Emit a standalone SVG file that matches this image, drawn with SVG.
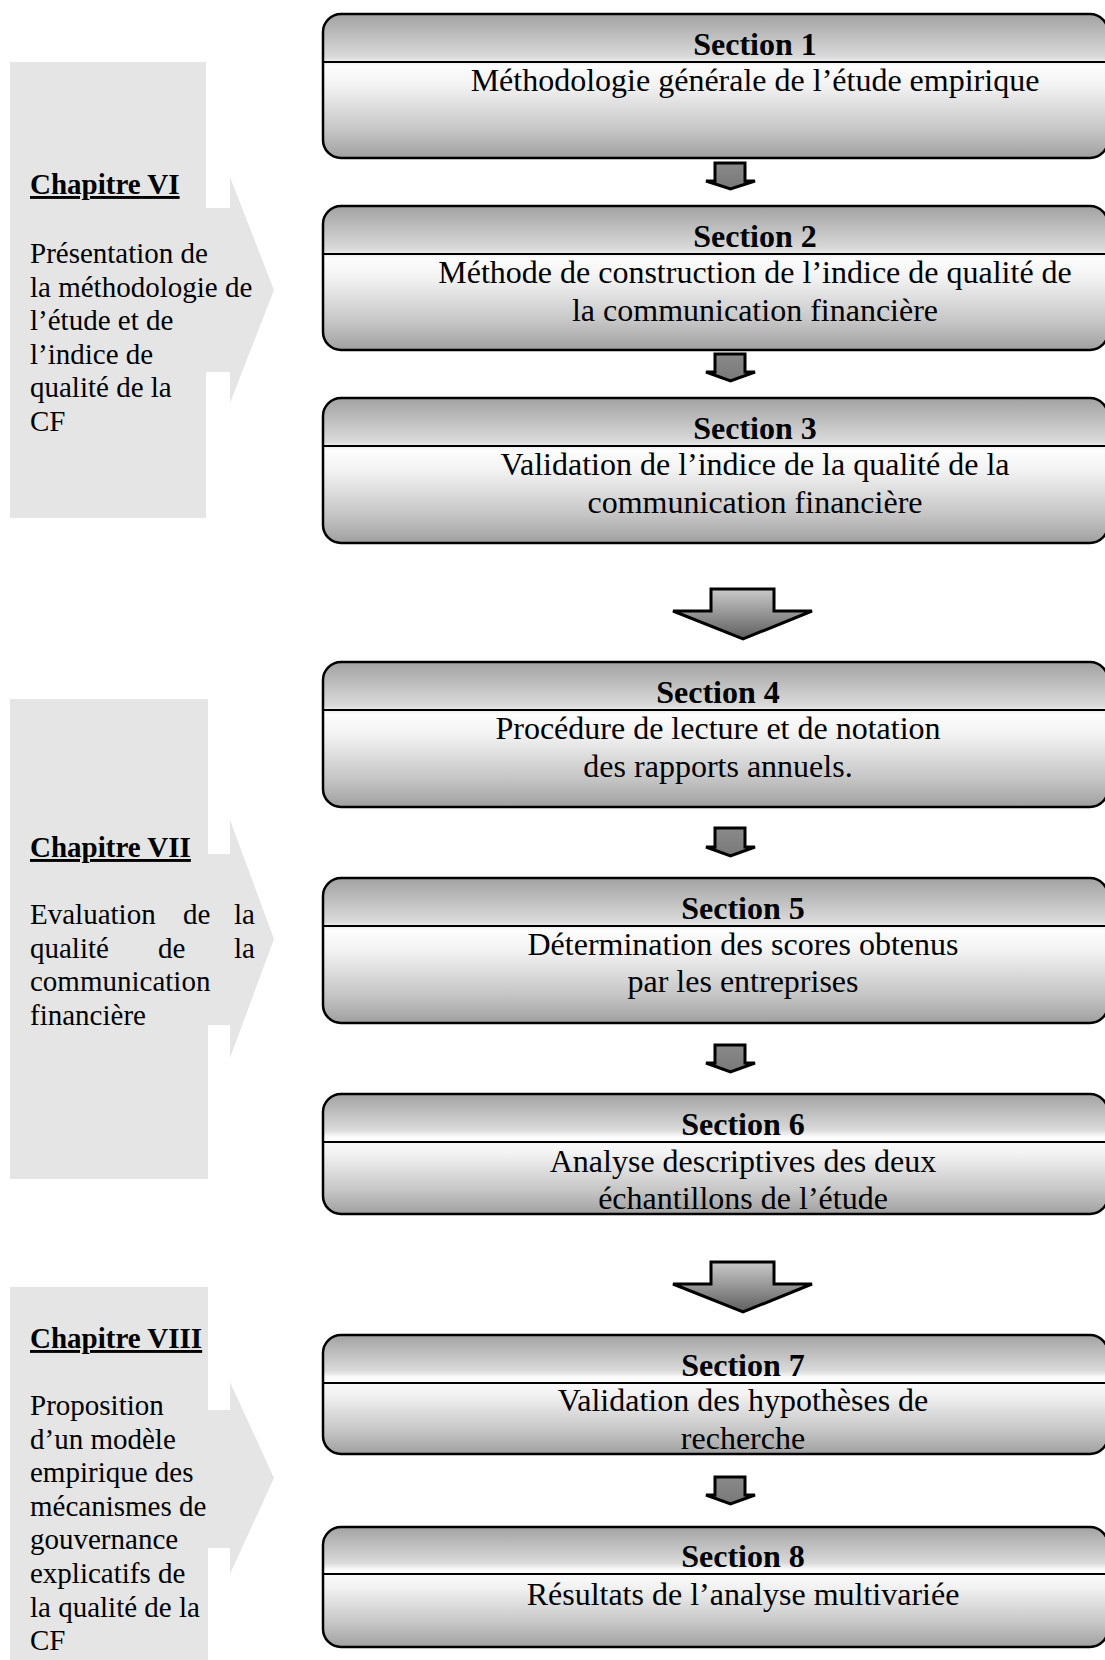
<svg xmlns="http://www.w3.org/2000/svg" width="1105" height="1660" viewBox="0 0 1105 1660">
<defs>
<linearGradient id="boxGrad" x1="0" y1="0" x2="0" y2="1">
<stop offset="0" stop-color="#a2a2a2"/>
<stop offset="0.30" stop-color="#dadada"/>
<stop offset="0.36" stop-color="#fdfdfd"/>
<stop offset="0.50" stop-color="#f2f2f2"/>
<stop offset="0.80" stop-color="#c6c6c6"/>
<stop offset="1" stop-color="#a0a0a0"/>
</linearGradient>
<linearGradient id="bigGrad" x1="0" y1="0" x2="0" y2="1">
<stop offset="0" stop-color="#cacaca"/>
<stop offset="1" stop-color="#5e5e5e"/>
</linearGradient>
<linearGradient id="smallGrad" x1="0" y1="0" x2="0" y2="1">
<stop offset="0" stop-color="#8a8a8a"/>
<stop offset="1" stop-color="#787878"/>
</linearGradient>
</defs>
<style>
.panel{fill:#e5e5e5;stroke:none}
.box{fill:url(#boxGrad);stroke:#000;stroke-width:2.5}
.hline{stroke:#000;stroke-width:2.2}
.big{fill:url(#bigGrad);stroke:#000;stroke-width:3;stroke-linejoin:miter}
.small{fill:url(#smallGrad);stroke:#000;stroke-width:3;stroke-linejoin:miter}
.ct{font-family:"Liberation Serif","Times New Roman",serif;font-size:29px;fill:#000}
.ch{font-family:"Liberation Serif","Times New Roman",serif;font-size:29px;font-weight:bold;text-decoration:underline;fill:#000}
.sh{font-family:"Liberation Serif","Times New Roman",serif;font-size:32px;font-weight:bold;fill:#000;text-anchor:middle}
.st{font-family:"Liberation Serif","Times New Roman",serif;font-size:32px;fill:#000;text-anchor:middle}
</style>

<g id="chapitre6">
<polygon class="panel" points="10,62 206,62 206,208 230,208 230,177 274,290 230,403 230,372 206,372 206,518 10,518"/>
<text class="ch" x="30" y="194">Chapitre VI</text>
<text class="ct" x="30" y="263">Présentation de</text>
<text class="ct" x="30" y="296.5">la méthodologie de</text>
<text class="ct" x="30" y="330">l’étude et de</text>
<text class="ct" x="30" y="363.5">l’indice de</text>
<text class="ct" x="30" y="397">qualité de la</text>
<text class="ct" x="30" y="430.5">CF</text>
</g>

<g id="chapitre7">
<polygon class="panel" points="10,699 208,699 208,854 230,854 230,820 274,939 230,1058 230,1025 208,1025 208,1179 10,1179"/>
<text class="ch" x="30" y="857">Chapitre VII</text>
<text class="ct" x="30" y="924">Evaluation</text>
<text class="ct" x="183" y="924">de</text>
<text class="ct" x="255" y="924" text-anchor="end">la</text>
<text class="ct" x="30" y="957.5">qualité</text>
<text class="ct" x="158" y="957.5">de</text>
<text class="ct" x="255" y="957.5" text-anchor="end">la</text>
<text class="ct" x="30" y="991">communication</text>
<text class="ct" x="30" y="1024.5">financière</text>
</g>

<g id="chapitre8">
<polygon class="panel" points="10,1287 208,1287 208,1410 230,1410 230,1382 274,1478 230,1574 230,1548 208,1548 208,1665 10,1665"/>
<text class="ch" x="30" y="1348">Chapitre VIII</text>
<text class="ct" x="30" y="1415">Proposition</text>
<text class="ct" x="30" y="1448.6">d’un modèle</text>
<text class="ct" x="30" y="1482.2">empirique des</text>
<text class="ct" x="30" y="1515.8">mécanismes de</text>
<text class="ct" x="30" y="1549.4">gouvernance</text>
<text class="ct" x="30" y="1583">explicatifs de</text>
<text class="ct" x="30" y="1616.6">la qualité de la</text>
<text class="ct" x="30" y="1650.2">CF</text>
</g>

<g id="section1">
<rect class="box" x="323" y="14" width="785" height="144" rx="18"/>
<line class="hline" x1="323" y1="62" x2="1108" y2="62"/>
<text class="sh" x="755" y="55">Section 1</text>
<text class="st" x="755" y="91">Méthodologie générale de l’étude empirique</text>
</g>

<g id="section2">
<rect class="box" x="323" y="206" width="785" height="144" rx="18"/>
<line class="hline" x1="323" y1="254" x2="1108" y2="254"/>
<text class="sh" x="755" y="247">Section 2</text>
<text class="st" x="755" y="283">Méthode de construction de l’indice de qualité de</text>
<text class="st" x="755" y="320.5">la communication financière</text>
</g>

<g id="section3">
<rect class="box" x="323" y="398" width="785" height="145" rx="18"/>
<line class="hline" x1="323" y1="446" x2="1108" y2="446"/>
<text class="sh" x="755" y="439">Section 3</text>
<text class="st" x="755" y="475">Validation de l’indice de la qualité de la</text>
<text class="st" x="755" y="512.5">communication financière</text>
</g>

<g id="section4">
<rect class="box" x="323" y="662" width="785" height="145" rx="18"/>
<line class="hline" x1="323" y1="710" x2="1108" y2="710"/>
<text class="sh" x="718" y="702.5">Section 4</text>
<text class="st" x="718" y="739">Procédure de lecture et de notation</text>
<text class="st" x="718" y="776.5">des rapports annuels.</text>
</g>

<g id="section5">
<rect class="box" x="323" y="878" width="785" height="145" rx="18"/>
<line class="hline" x1="323" y1="926" x2="1108" y2="926"/>
<text class="sh" x="743" y="918.5">Section 5</text>
<text class="st" x="743" y="955">Détermination des scores obtenus</text>
<text class="st" x="743" y="992">par les entreprises</text>
</g>

<g id="section6">
<rect class="box" x="323" y="1094" width="785" height="120" rx="18"/>
<line class="hline" x1="323" y1="1142" x2="1108" y2="1142"/>
<text class="sh" x="743" y="1134.5">Section 6</text>
<text class="st" x="743" y="1171.5">Analyse descriptives des deux</text>
<text class="st" x="743" y="1208.5">échantillons de l’étude</text>
</g>

<g id="section7">
<rect class="box" x="323" y="1335" width="785" height="119" rx="18"/>
<line class="hline" x1="323" y1="1383" x2="1108" y2="1383"/>
<text class="sh" x="743" y="1375.5">Section 7</text>
<text class="st" x="743" y="1411">Validation des hypothèses de</text>
<text class="st" x="743" y="1449">recherche</text>
</g>

<g id="section8">
<rect class="box" x="323" y="1527" width="785" height="120" rx="18"/>
<line class="hline" x1="323" y1="1574" x2="1108" y2="1574"/>
<text class="sh" x="743" y="1567">Section 8</text>
<text class="st" x="743" y="1605">Résultats de l’analyse multivariée</text>
</g>

<g id="connectors">
<polygon class="small" points="715,163 745,163 745,181 755,181 730.5,189 706,181 715,181"/>
<polygon class="small" points="715,354 745,354 745,372 755,372 730.5,381 706,372 715,372"/>
<polygon class="big" points="711,589 774,589 774,611 812,611 743,639 673,611 711,611"/>
<polygon class="small" points="715,828 745,828 745,847 755,847 730.5,856 706,847 715,847"/>
<polygon class="small" points="715,1045 745,1045 745,1063 755,1063 730.5,1072 706,1063 715,1063"/>
<polygon class="big" points="711,1262 774,1262 774,1284 812,1284 743,1312 673,1284 711,1284"/>
<polygon class="small" points="715,1477 745,1477 745,1495 755,1495 730.5,1504 706,1495 715,1495"/>
</g>
</svg>
